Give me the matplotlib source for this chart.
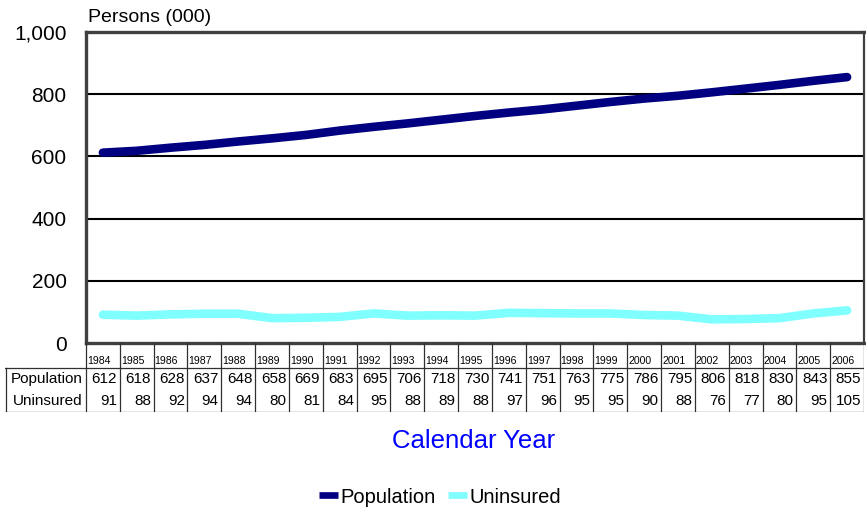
import numpy as np
import matplotlib.pyplot as plt
from matplotlib.lines import Line2D

plt.rcParams['font.family'] = ['Liberation Sans', 'DejaVu Sans']

years = [1984, 1985, 1986, 1987, 1988, 1989, 1990, 1991, 1992, 1993, 1994, 1995,
         1996, 1997, 1998, 1999, 2000, 2001, 2002, 2003, 2004, 2005, 2006]
population = [612, 618, 628, 637, 648, 658, 669, 683, 695, 706, 718, 730,
              741, 751, 763, 775, 786, 795, 806, 818, 830, 843, 855]
uninsured = [91, 88, 92, 94, 94, 80, 81, 84, 95, 88, 89, 88,
             97, 96, 95, 95, 90, 88, 76, 77, 80, 95, 105]

pop_color = '#000080'
unins_color = '#80FFFF'
frame_color = '#404040'

W, H = 866, 511
fig = plt.figure(figsize=(W / 100, H / 100), dpi=100)

# plot area in pixels
L, R, T, B = 86, 864, 32, 343
ax = fig.add_axes([L / W, 1 - B / H, (R - L) / W, (B - T) / H])

x = np.arange(len(years))
ax.plot(x, population, color=pop_color, lw=6.2, solid_capstyle='round', zorder=3)
ax.plot(x, uninsured, color=unins_color, lw=6.2, solid_capstyle='round', zorder=3)

ax.set_xlim(-0.5, len(years) - 0.5)
ax.set_ylim(0, 1000)
ax.set_yticks(range(0, 1001, 200))
ax.set_yticklabels(['0', '200', '400', '600', '800', '1,000'], fontsize=15)
ax.tick_params(axis='y', length=0, pad=14)
ax.set_xticks([])
for y in range(200, 1000, 200):
    ax.axhline(y, color='black', lw=1.5, zorder=1)
for s in ['left', 'top', 'bottom']:
    ax.spines[s].set_color(frame_color)
    ax.spines[s].set_linewidth(2.4)
ax.spines['right'].set_color(frame_color)
ax.spines['right'].set_linewidth(1.6)

fig.text(88 / W, 1 - 17 / H, 'Persons (000)', fontsize=14, va='center', ha='left')

# data table below the plot
TL, TB = 5, 412
tax = fig.add_axes([TL / W, 1 - TB / H, (R - TL) / W, (TB - B) / H])
colw = (R - L) / len(years)
lab_w = (L - TL) / colw
tax.set_xlim(-0.5 - lab_w, len(years) - 0.5)
tax.set_ylim(0, TB - B)
tax.axis('off')

lc = '#303030'
lw = 0.9
y_unins, y_pop, y_year = 0, 22, 44
top = TB - B
# horizontal lines
tax.plot([-0.5 - lab_w, len(years) - 0.5], [0.5, 0.5], color=lc, lw=lw)
tax.plot([-0.5 - lab_w, len(years) - 0.5], [y_year, y_year], color=lc, lw=lw)
# vertical lines
tax.plot([-0.5 - lab_w + 0.02, -0.5 - lab_w + 0.02], [0, y_year], color=lc, lw=lw)
for i in range(len(years) + 1):
    tax.plot([i - 0.5, i - 0.5], [0, top], color=lc, lw=lw)

for i, yr in enumerate(years):
    tax.text(i - 0.47, y_year + 1.5, str(yr), fontsize=7.6, ha='left', va='bottom')
    tax.text(i + 0.42, y_pop + 11, str(population[i]), fontsize=11, ha='right', va='center')
    tax.text(i + 0.42, y_unins + 11, str(uninsured[i]), fontsize=11, ha='right', va='center')
tax.text(-0.6, y_pop + 11, 'Population', fontsize=11, ha='right', va='center')
tax.text(-0.6, y_unins + 11, 'Uninsured', fontsize=11, ha='right', va='center')

fig.text(474 / W, 1 - 441 / H, 'Calendar Year', fontsize=18.5, color='#0000FF',
         ha='center', va='center')

handles = [Line2D([0], [0], color=pop_color, lw=4.8, solid_capstyle='butt'),
           Line2D([0], [0], color=unins_color, lw=4.8, solid_capstyle='butt')]
fig.legend(handles, ['Population', 'Uninsured'], loc='center',
           bbox_to_anchor=(440 / W, 1 - 497 / H), ncol=2, frameon=False,
           fontsize=14.5, handlelength=0.95, handletextpad=0.1, columnspacing=0.65)

fig.savefig('out.png', dpi=100)
